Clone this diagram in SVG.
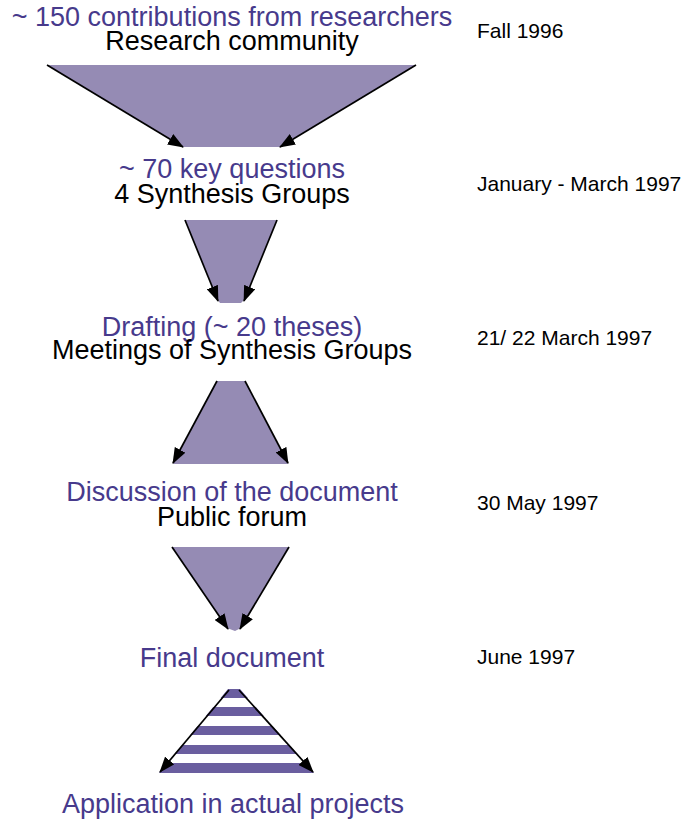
<svg xmlns="http://www.w3.org/2000/svg" width="683" height="819" viewBox="0 0 683 819">
<style>
text{font-family:"Liberation Sans",Arial,sans-serif}
.p{fill:#473a8c;font-size:27px;text-anchor:middle}
.b{fill:#000;font-size:27px;text-anchor:middle}
.d{fill:#000;font-size:21px}
.shape{fill:#958bb4;stroke:none}
.arr{stroke:#000;stroke-width:1.7;fill:none;marker-end:url(#ah)}
</style>
<defs>
<marker id="ah" viewBox="0 0 16 12" refX="15" refY="6" markerWidth="16" markerHeight="12" markerUnits="userSpaceOnUse" orient="auto">
<path d="M0,0 L16,6 L0,12 z" fill="#000"/>
</marker>
<clipPath id="tri"><polygon points="228,689 240,689 314,773 159,773"/></clipPath>
</defs>
<rect width="683" height="819" fill="#fff"/>

<g id="stage1">
<text class="p" x="232" y="26">~ 150 contributions from researchers</text>
<text class="b" x="232" y="50">Research community</text>
<text class="d" x="477" y="38">Fall 1996</text>
<polygon class="shape" points="47,65 416,65 280,147 183,147"/>
</g>
<g id="stage2">
<text class="p" x="232" y="178">~ 70 key questions</text>
<text class="b" x="232" y="203">4 Synthesis Groups</text>
<text class="d" x="477" y="191">January - March 1997</text>
<polygon class="shape" points="185,220 277,220 244,300 241,303 220,303 218,300"/>
</g>
<g id="stage3">
<text class="p" x="232" y="336">Drafting (~ 20 theses)</text>
<text class="b" x="232" y="359">Meetings of Synthesis Groups</text>
<text class="d" x="477" y="345">21/ 22 March 1997</text>
<polygon class="shape" points="217,381 245,381 288,464 173,464"/>
</g>
<g id="stage4">
<text class="p" x="232" y="501">Discussion of the document</text>
<text class="b" x="232" y="526">Public forum</text>
<text class="d" x="477" y="510">30 May 1997</text>
<polygon class="shape" points="172,547 289,547 241,628 235,631 227,628"/>
</g>
<g id="stage5">
<text class="p" x="232" y="667">Final document</text>
<text class="d" x="477" y="664">June 1997</text>
<g clip-path="url(#tri)" fill="#6a5e9f">
<rect x="150" y="689" width="170" height="9"/>
<rect x="150" y="707" width="170" height="9"/>
<rect x="150" y="726" width="170" height="9"/>
<rect x="150" y="745" width="170" height="9"/>
<rect x="150" y="763" width="170" height="10"/>
</g>
</g>
<g id="stage6">
<text class="p" x="233" y="813">Application in actual projects</text>
</g>

<g id="connectors">
<line class="arr" x1="47" y1="65" x2="183" y2="147"/>
<line class="arr" x1="416" y1="65" x2="280" y2="147"/>
<line class="arr" x1="185" y1="220" x2="218" y2="301"/>
<line class="arr" x1="277" y1="220" x2="244" y2="301"/>
<line class="arr" x1="217" y1="381" x2="173" y2="463"/>
<line class="arr" x1="245" y1="381" x2="288" y2="463"/>
<line class="arr" x1="172" y1="547" x2="228" y2="629"/>
<line class="arr" x1="289" y1="547" x2="240" y2="629"/>
<line class="arr" x1="229" y1="690" x2="160" y2="772"/>
<line class="arr" x1="239" y1="690" x2="313" y2="772"/>
</g>
</svg>
